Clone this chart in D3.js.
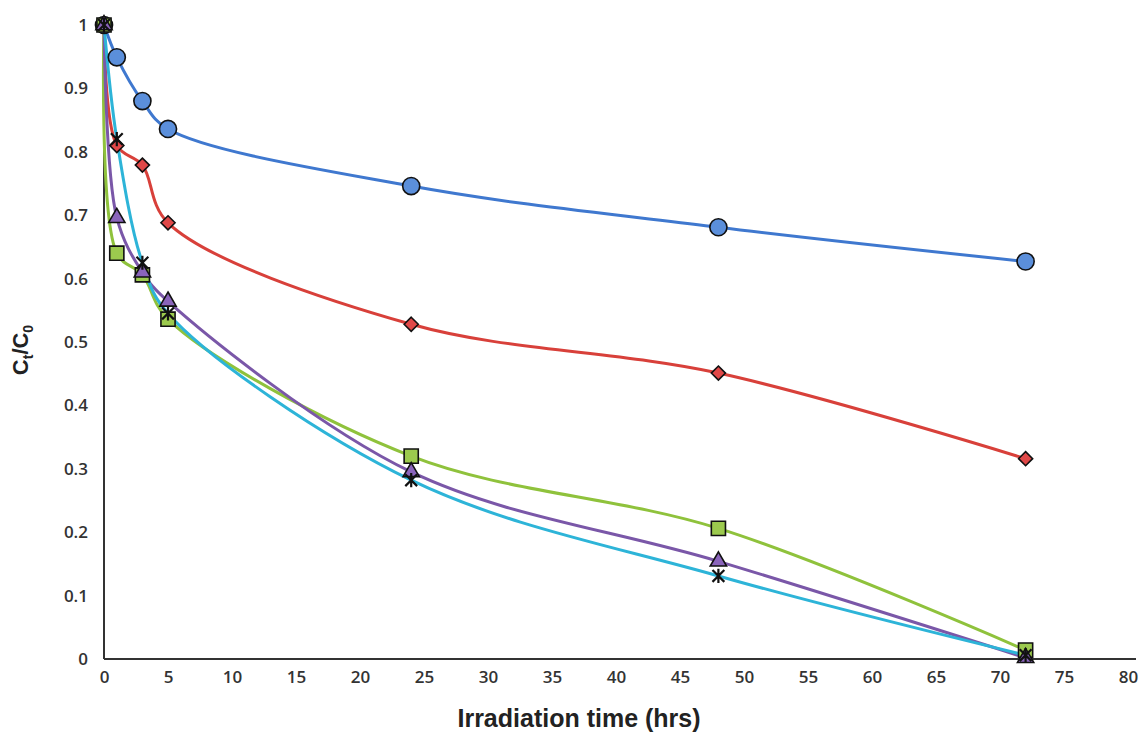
<!DOCTYPE html>
<html>
<head>
<meta charset="utf-8">
<script src="https://cdn.jsdelivr.net/npm/d3@7"></script>
<style>
  body { margin: 0; background: #fff; }
  .tick text { font-family: "Open Sans", "Liberation Sans", sans-serif; font-size: 17px; font-weight: 600; fill: #333; }
</style>
</head>
<body>
<div id="chart"></div>
<script>
// irradiation times (hrs) and Ct/C0 per sample
let hours = [0, 1, 3, 5, 24, 48, 72];
let blueVals   = [1.0, 0.949, 0.880, 0.836, 0.746, 0.681, 0.627];
let redVals    = [1.0, 0.810, 0.779, 0.688, 0.528, 0.451, 0.316];
let greenVals  = [1.0, 0.640, 0.606, 0.536, 0.320, 0.206, 0.014];
let purpleVals = [1.0, 0.696, 0.610, 0.564, 0.295, 0.154, 0.002];
let cyanVals   = [1.0, 0.820, 0.625, 0.545, 0.282, 0.131, 0.006];
let xTicks = [0, 5, 10, 15, 20, 25, 30, 35, 40, 45, 50, 55, 60, 65, 70, 75, 80];
let yTicks = [0, 0.1, 0.2, 0.3, 0.4, 0.5, 0.6, 0.7, 0.8, 0.9, 1];

let width = 1144, height = 735;
let x0 = 104, x1 = 1128, yTop = 25, yBot = 659;

let series = [
    {vals: blueVals,   line: "#3f78cf", fill: "#5b8fdb", marker: "circle"},
    {vals: redVals,    line: "#d8403a", fill: "#e04848", marker: "diamond"},
    {vals: greenVals,  line: "#8fc23c", fill: "#9cca4e", marker: "square"},
    {vals: purpleVals, line: "#7a57a8", fill: "#8a64bb", marker: "triangle"},
    {vals: cyanVals,   line: "#2db4d8", fill: "#111", marker: "star"}
];

let svg = d3.select("#chart").append("svg")
    .attr("width", width)
    .attr("height", height);

let x = d3.scaleLinear().domain([0, 80]).range([x0, x1]);
let y = d3.scaleLinear().domain([0, 1]).range([yBot, yTop]);

// x axis
let xAxis = svg.append("g")
    .attr("transform", "translate(0," + yBot + ")")
    .call(d3.axisBottom(x).tickValues(xTicks).tickSize(0).tickPadding(12));
xAxis.select(".domain").attr("stroke", "#333").attr("stroke-width", 2)
    .attr("d", "M" + x0 + ",0H" + (x1 + 8));

// y axis (only labels, line drawn below)
let yAxis = svg.append("g")
    .attr("transform", "translate(" + x0 + ",0)")
    .call(d3.axisLeft(y).tickValues(yTicks).tickSize(0).tickPadding(16)
        .tickFormat(function (d) { return d === 0 || d === 1 ? d3.format("d")(d) : d3.format(".1f")(d); }));
yAxis.select(".domain").remove();

svg.append("line")
    .attr("x1", x(0)).attr("x2", x(0))
    .attr("y1", y(0)).attr("y2", y(0.87))
    .attr("stroke", "#333").attr("stroke-width", 2);

// lines
let line = d3.line()
    .x(function (d) { return x(d[0]); })
    .y(function (d) { return y(d[1]); })
    .curve(d3.curveCatmullRom.alpha(0.5));

series.forEach(function (s) {
    let pts = hours.map(function (h, i) { return [h, s.vals[i]]; });
    svg.append("path")
        .datum(pts)
        .attr("d", line)
        .attr("fill", "none")
        .attr("stroke", s.line)
        .attr("stroke-width", 3);
});

// excel style star: an x with a vertical bar
let starSymbol = {
    draw: function (ctx, size) {
        let r = Math.sqrt(size) / 2;
        ctx.moveTo(-r, -r); ctx.lineTo(r, r);
        ctx.moveTo(r, -r); ctx.lineTo(-r, r);
        ctx.moveTo(0, -r * 1.2); ctx.lineTo(0, r * 1.2);
    }
};
// square turned on its corner
let diamondSymbol = {
    draw: function (ctx, size) {
        let r = Math.sqrt(size) / 2 * 1.41;
        ctx.moveTo(0, -r); ctx.lineTo(r, 0); ctx.lineTo(0, r); ctx.lineTo(-r, 0);
        ctx.closePath();
    }
};

let symbolType = {
    circle: d3.symbolCircle,
    diamond: diamondSymbol,
    square: d3.symbolSquare,
    triangle: d3.symbolTriangle,
    star: starSymbol
};
let symbolSize = {circle: 230, diamond: 100, square: 200, triangle: 115, star: 140};

series.forEach(function (s) {
    let g = svg.append("g");
    g.selectAll(".pt")
        .data(hours.map(function (h, i) { return [h, s.vals[i]]; }))
        .enter()
        .append("path")
        .attr("transform", function (d) { return "translate(" + x(d[0]) + "," + y(d[1]) + ")"; })
        .attr("d", d3.symbol().type(symbolType[s.marker]).size(symbolSize[s.marker]))
        .attr("fill", s.marker === "star" ? "none" : s.fill)
        .attr("stroke", "#111")
        .attr("stroke-width", s.marker === "star" ? 2.2 : 1.6);
});

// axis titles
svg.append("text")
    .attr("x", 579)
    .attr("y", 727)
    .attr("text-anchor", "middle")
    .attr("font-family", "'Liberation Sans Narrow', 'Liberation Sans', sans-serif")
    .attr("font-weight", "bold")
    .attr("font-size", 25)
    .attr("fill", "#222")
    .text("Irradiation time (hrs)");

let yt = svg.append("text")
    .attr("transform", "translate(28,350) rotate(-90)")
    .attr("text-anchor", "middle")
    .attr("font-family", "'Liberation Sans', sans-serif")
    .attr("font-weight", "bold")
    .attr("font-size", 22)
    .attr("fill", "#222");
yt.append("tspan").text("C");
yt.append("tspan").attr("font-size", 14).attr("dy", 5).text("t");
yt.append("tspan").attr("dy", -5).text("/C");
yt.append("tspan").attr("font-size", 14).attr("dy", 5).text("0");
</script>
</body>
</html>
